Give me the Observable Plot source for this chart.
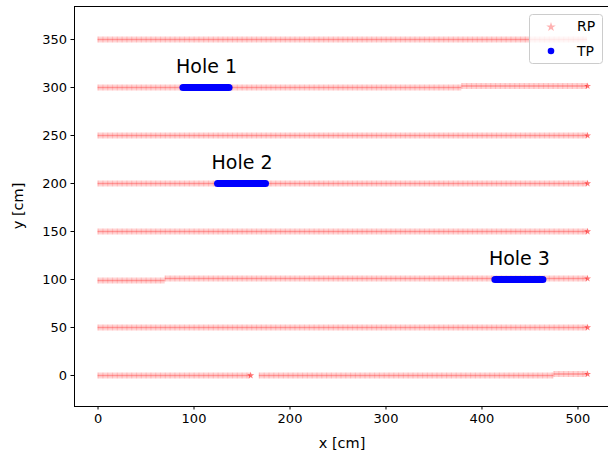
<!DOCTYPE html>
<html>
<head>
<meta charset="utf-8">
<script src="https://cdn.jsdelivr.net/npm/d3@7"></script>
<script src="https://cdn.jsdelivr.net/npm/@observablehq/plot@0.6"></script>
<style>
  html, body { margin: 0; padding: 0; background: #fff; }
  #chart { width: 608px; height: 455px; overflow: hidden; }
</style>
</head>
<body>
<div id="chart"></div>
<script>
// ---- data ----
const xTicks = [0, 100, 200, 300, 400, 500];
const yTicks = [0, 50, 100, 150, 200, 250, 300, 350];

// RP reference-point runs (start x, end x, y) in cm
const rpX1 = [0, 168, 475, 0, 0, 70, 0, 0, 0, 0, 379, 0];
const rpX2 = [159, 475, 510, 510, 70, 510, 510, 510, 510, 379, 510, 510];
const rpY  = [0, 0, 1.5, 50, 99, 101, 150, 200, 250, 300, 301.5, 350];

// denser (overlapping) RP points
const rpDarkX = [159, 510, 510, 510, 510, 510, 510, 510];
const rpDarkY = [0, 1.5, 50, 101, 150, 200, 250, 301.5];

// TP test points (holes)
const holeName = ["Hole 1", "Hole 2", "Hole 3"];
const holeX1 = [89, 125, 414];
const holeX2 = [137, 175, 464];
const holeY  = [300, 200, 100];

// ---- tables ----
const rp = rpY.map((y, i) => ({x1: rpX1[i], x2: rpX2[i], y}));
const rpDark = rpDarkX.map((x, i) => ({x, y: rpDarkY[i]}));
const holes = holeName.map((name, i) => ({name, x1: holeX1[i], x2: holeX2[i], y: holeY[i], xc: (holeX1[i] + holeX2[i]) / 2}));

const xDomain = [-24.5, 531.8];
const yDomain = [-32.3, 384.4];
const font = "DejaVu Sans, sans-serif";

const plot = Plot.plot({
  width: 608,
  height: 455,
  marginLeft: 74,
  marginRight: 0,
  marginTop: 6,
  marginBottom: 49,
  style: {fontFamily: font, fontSize: "13px", color: "#000", background: "#fff"},
  x: {domain: xDomain},
  y: {domain: yDomain},
  marks: [
    // RP bands
    Plot.ruleY(rp, {y: "y", x1: "x1", x2: "x2", stroke: "#ff0000", strokeOpacity: 0.17, strokeWidth: 6}),
    Plot.ruleY(rp, {y: "y", x1: "x1", x2: "x2", stroke: "#ff0000", strokeOpacity: 0.12, strokeWidth: 6, strokeDasharray: "1.2,3.6"}),
    Plot.ruleY(rp, {y: "y", x1: "x1", x2: "x2", stroke: "#ff0000", strokeOpacity: 0.3, strokeWidth: 1.5}),
    Plot.dot(rpDark, {x: "x", y: "y", symbol: "star", r: 2.2, fill: "#ff0000", fillOpacity: 0.55, stroke: "none"}),
    // TP
    Plot.ruleY(holes, {y: "y", x1: "x1", x2: "x2", stroke: "#0000ff", strokeWidth: 7, strokeLinecap: "round"}),
    Plot.text(holes, {x: "xc", y: "y", text: "name", dy: -21, fontSize: 19, fill: "#000", fontFamily: font}),
    // axes
    Plot.axisX({ticks: xTicks, tickSize: 3.5, tickPadding: 4, fontSize: 13, label: null}),
    Plot.axisY({ticks: yTicks, tickSize: 3.5, tickPadding: 4, fontSize: 13, label: null}),
    // spines
    Plot.ruleX([xDomain[0]], {stroke: "#000", strokeWidth: 1}),
    Plot.ruleY([yDomain[0], yDomain[1]], {stroke: "#000", strokeWidth: 1})
  ]
});

document.getElementById("chart").appendChild(plot);

const svg = d3.select(plot);
// axis titles
svg.append("text").attr("x", 342).attr("y", 448).attr("text-anchor", "middle")
  .attr("font-family", font).attr("font-size", 14.5).attr("fill", "#000").text("x [cm]");
svg.append("text").attr("transform", "translate(23,206) rotate(-90)").attr("text-anchor", "middle")
  .attr("font-family", font).attr("font-size", 14.5).attr("fill", "#000").text("y [cm]");

// legend box
const lg = svg.append("g").attr("font-family", font).attr("font-size", 14).attr("text-anchor", "start");
lg.append("rect").attr("x", 529.5).attr("y", 14.5).attr("width", 73).attr("height", 49)
  .attr("rx", 3).attr("fill", "#fff").attr("fill-opacity", 0.8).attr("stroke", "#ccc");
lg.append("path").attr("d", d3.symbol(d3.symbolStar, 28)()).attr("transform", "translate(551,27)")
  .attr("fill", "#ff0000").attr("fill-opacity", 0.3);
lg.append("circle").attr("cx", 551).attr("cy", 51).attr("r", 3.3).attr("fill", "#0000ff");
lg.append("text").attr("x", 577).attr("y", 31).attr("fill", "#000").text("RP");
lg.append("text").attr("x", 577).attr("y", 56).attr("fill", "#000").text("TP");
</script>
</body>
</html>
